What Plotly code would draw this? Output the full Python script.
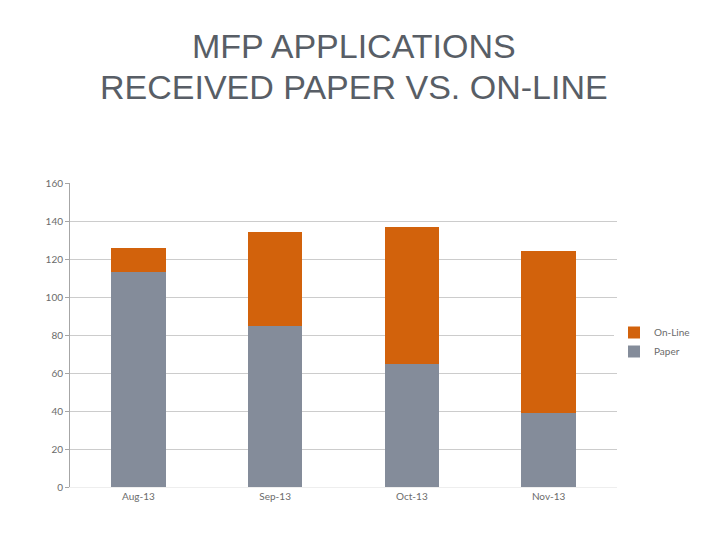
import plotly.graph_objects as go

months = ["Aug-13", "Sep-13", "Oct-13", "Nov-13"]
paper = [113, 85, 65, 39]
online = [13, 49, 72, 85]
y_ticks = [0, 20, 40, 60, 80, 100, 120, 140, 160]

# page body offset of 8px is accounted for in the margins
L, R, T, B = 62, 111, 175, 61
PW = 720 - L - R
PH = 540 - T - B


def px_y(y_screen):
    return (540 - B - (y_screen - 8)) / PH


def px_x(x_screen):
    return ((x_screen - 8) - L) / PW


fig = go.Figure()
fig.add_trace(go.Bar(name="Paper", x=months, y=paper, marker_color="#848C9A",
                     marker_line_width=0))
fig.add_trace(go.Bar(name="On-Line", x=months, y=online, marker_color="#D2620C",
                     marker_line_width=0))

fig.update_layout(
    width=720, height=540,
    barmode="stack", bargap=0.6,
    paper_bgcolor="white", plot_bgcolor="white",
    margin=dict(l=L, r=R, t=T, b=B),
    font=dict(family="Lato", color="#6b6b6b", size=10),
    legend=dict(x=px_x(614), y=px_y(342), xanchor="left", yanchor="middle",
                traceorder="reversed", font=dict(size=10, color="#6b6b6b"),
                itemwidth=30, tracegroupgap=0),
    showlegend=True,
)
for txt, ys in [("MFP APPLICATIONS", 46), ("RECEIVED PAPER VS. ON-LINE", 87)]:
    fig.add_annotation(text=txt, xref="paper", yref="paper",
                       x=px_x(354), y=px_y(ys), showarrow=False,
                       font=dict(family="Liberation Sans", size=34, color="#585E66"),
                       xanchor="center", yanchor="middle")
fig.update_yaxes(range=[0, 160], tickvals=y_ticks, showgrid=True,
                 gridcolor="#cccccc", gridwidth=1, showline=True,
                 linecolor="#a6a6a6", zeroline=False, ticks="outside",
                 ticklen=4, tickcolor="#a6a6a6")
fig.update_xaxes(showline=True, linecolor="#eeeeee", ticks="", showgrid=False)

fig.write_html("out.html")
